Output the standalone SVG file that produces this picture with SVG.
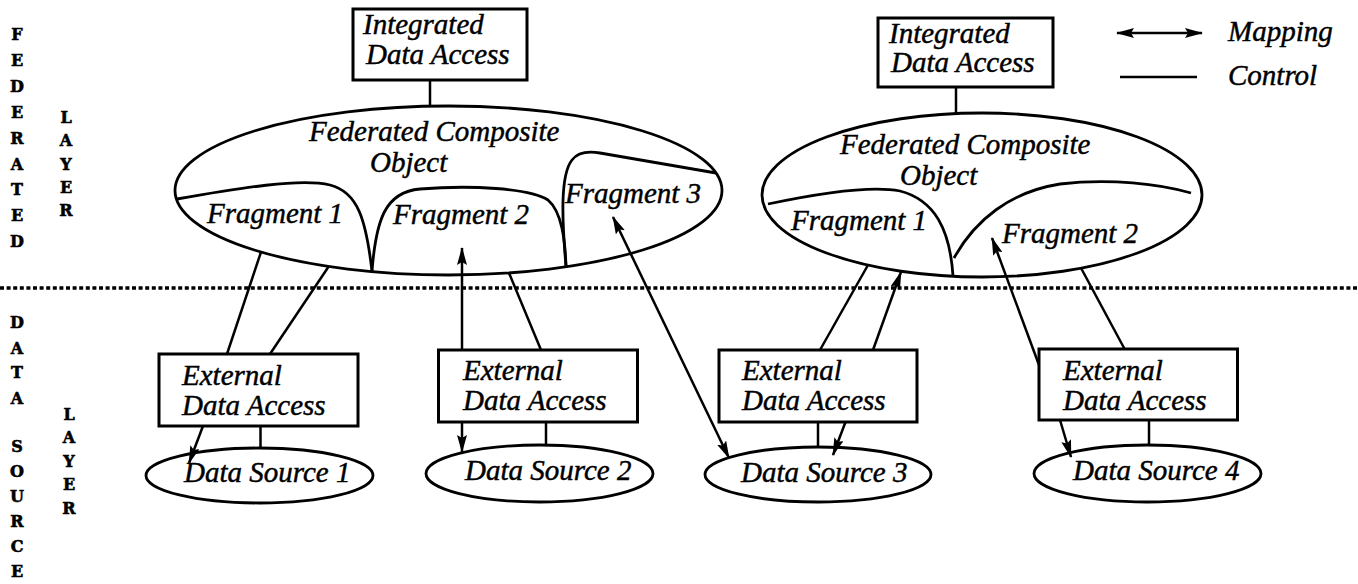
<svg xmlns="http://www.w3.org/2000/svg" width="1358" height="584" viewBox="0 0 1358 584">
  <defs>
    <marker id="head" viewBox="0 0 18 10" refX="17" refY="5" markerWidth="18" markerHeight="10" markerUnits="userSpaceOnUse" orient="auto-start-reverse">
      <path d="M0,0 L18,5 L0,10 L3,5 Z" fill="#000"/>
    </marker>
  </defs>
  <style>
    .box { fill: #fff; stroke: #000; stroke-width: 3; }
    .oval { fill: none; stroke: #000; stroke-width: 2.8; }
    .frag { fill: none; stroke: #000; stroke-width: 2.8; }
    .ctl { stroke: #000; stroke-width: 2.5; fill: none; }
    .map { stroke: #000; stroke-width: 2.5; fill: none; marker-end: url(#head); }
    .map2 { stroke: #000; stroke-width: 2.5; fill: none; marker-start: url(#head); marker-end: url(#head); }
    .lbl { font-family: "Liberation Serif", "Times New Roman", serif; font-style: italic; font-size: 29px; fill: #000; stroke: #000; stroke-width: 0.45; }
    .side { font-family: "DejaVu Serif", "Liberation Serif", serif; font-weight: bold; font-size: 16px; fill: #000; stroke: #000; stroke-width: 0.6; text-anchor: middle; }
    .sep { stroke: #000; stroke-width: 3.5; stroke-dasharray: 4 2.6; }
  </style>
  <rect width="1358" height="584" fill="#fff"/>

  <!-- layer separator -->
  <line class="sep" x1="0" y1="288" x2="1358" y2="288"/>

  <!-- side captions -->
  <g id="federated-layer-caption">
    <text class="side" x="17" y="40">F</text>
    <text class="side" x="17" y="66">E</text>
    <text class="side" x="17" y="92">D</text>
    <text class="side" x="17" y="118">E</text>
    <text class="side" x="17" y="144">R</text>
    <text class="side" x="17" y="170">A</text>
    <text class="side" x="17" y="195">T</text>
    <text class="side" x="17" y="221">E</text>
    <text class="side" x="17" y="247">D</text>
    <text class="side" x="66" y="123">L</text>
    <text class="side" x="66" y="146">A</text>
    <text class="side" x="66" y="170">Y</text>
    <text class="side" x="66" y="193">E</text>
    <text class="side" x="66" y="216">R</text>
  </g>
  <g id="data-source-layer-caption">
    <text class="side" x="17" y="328">D</text>
    <text class="side" x="17" y="354">A</text>
    <text class="side" x="17" y="378">T</text>
    <text class="side" x="17" y="404">A</text>
    <text class="side" x="17" y="452">S</text>
    <text class="side" x="17" y="477">O</text>
    <text class="side" x="17" y="502">U</text>
    <text class="side" x="17" y="527">R</text>
    <text class="side" x="17" y="552">C</text>
    <text class="side" x="17" y="577">E</text>
    <text class="side" x="69" y="420">L</text>
    <text class="side" x="69" y="443">A</text>
    <text class="side" x="69" y="467">Y</text>
    <text class="side" x="69" y="490">E</text>
    <text class="side" x="69" y="514">R</text>
  </g>

  <!-- legend -->
  <g id="legend">
    <line class="map2" x1="1117" y1="33" x2="1202" y2="33"/>
    <text class="lbl" x="1228" y="41">Mapping</text>
    <line class="ctl" x1="1120" y1="77" x2="1197" y2="77"/>
    <text class="lbl" x="1228" y="85">Control</text>
  </g>

  <!-- connectors -->
  <g id="connectors">
    <!-- control -->
    <line class="ctl" x1="430" y1="80" x2="430" y2="106"/>
    <line class="ctl" x1="956" y1="87" x2="956" y2="113"/>
    <line class="ctl" x1="227" y1="354" x2="261" y2="252"/>
    <line class="ctl" x1="270" y1="354" x2="329" y2="266"/>
    <line class="ctl" x1="260.5" y1="426" x2="260.5" y2="448"/>
    <line class="ctl" x1="541" y1="350" x2="509" y2="273"/>
    <line class="ctl" x1="546" y1="422" x2="546" y2="445"/>
    <line class="ctl" x1="820" y1="350" x2="868" y2="265"/>
    <line class="ctl" x1="818" y1="422" x2="818" y2="447"/>
    <line class="ctl" x1="1124.6" y1="349" x2="1081" y2="268"/>
    <line class="ctl" x1="1149" y1="420" x2="1149" y2="445"/>
    <!-- mapping -->
    <line class="map" x1="462" y1="350" x2="462" y2="248"/>
    <line class="map" x1="462" y1="422" x2="462" y2="452"/>
    <line class="map" x1="203" y1="426" x2="189" y2="463"/>
    <line class="map2" x1="613" y1="217" x2="729" y2="458"/>
    <line class="map" x1="873" y1="350" x2="901" y2="272"/>
    <line class="map" x1="845.5" y1="422" x2="833" y2="455"/>
    <line class="map" x1="1039" y1="365" x2="992" y2="238"/>
    <line class="map" x1="1060" y1="420" x2="1071" y2="457"/>
  </g>

  <!-- federated layer, left -->
  <g id="ida-1">
    <rect class="box" x="353" y="9" width="174" height="71"/>
    <text class="lbl" x="363" y="34">Integrated</text>
    <text class="lbl" x="366" y="64">Data Access</text>
  </g>
  <g id="fco-1">
    <ellipse class="oval" cx="448.5" cy="190.5" rx="273.5" ry="84.5"/>
    <text class="lbl" x="309" y="141">Federated Composite</text>
    <text class="lbl" x="370" y="172">Object</text>
    <path class="frag" d="M177,199 C240,188 300,178 330,185 C358,192 366,220 372,271"/>
    <path class="frag" d="M372,271 C376,220 385,192 420,189 C470,185 530,188 548,200 C562,212 565,240 566,266"/>
    <path class="frag" d="M566,266 C562,220 560,175 572,160 C578,152 588,151 600,153 L716,173"/>
    <text class="lbl" x="207" y="223">Fragment 1</text>
    <text class="lbl" x="393" y="224">Fragment 2</text>
    <text class="lbl" x="565" y="203">Fragment 3</text>
  </g>

  <!-- federated layer, right -->
  <g id="ida-2">
    <rect class="box" x="878" y="18" width="175" height="69"/>
    <text class="lbl" x="889" y="43">Integrated</text>
    <text class="lbl" x="891" y="72">Data Access</text>
  </g>
  <g id="fco-2">
    <ellipse class="oval" cx="982" cy="195" rx="220" ry="82"/>
    <text class="lbl" x="840" y="154">Federated Composite</text>
    <text class="lbl" x="900" y="185">Object</text>
    <path class="frag" d="M768,204 C820,193 870,185 900,191 C935,200 950,230 953,276"/>
    <path class="frag" d="M954,258 C975,220 1010,192 1060,184 C1110,178 1160,184 1191,193"/>
    <text class="lbl" x="791" y="230">Fragment 1</text>
    <text class="lbl" x="1002" y="243">Fragment 2</text>
  </g>

  <!-- data source layer -->
  <g id="eda-1">
    <rect class="box" x="159" y="354" width="199" height="72"/>
    <text class="lbl" x="182" y="385">External</text>
    <text class="lbl" x="182" y="415">Data Access</text>
  </g>
  <g id="ds-1">
    <ellipse class="oval" cx="259.5" cy="475.5" rx="113.5" ry="27.5"/>
    <text class="lbl" x="184" y="482">Data Source 1</text>
  </g>
  <g id="eda-2">
    <rect class="box" x="438.5" y="350" width="199" height="72"/>
    <text class="lbl" x="463" y="380">External</text>
    <text class="lbl" x="463" y="410">Data Access</text>
  </g>
  <g id="ds-2">
    <ellipse class="oval" cx="539.5" cy="473.5" rx="113.5" ry="28.5"/>
    <text class="lbl" x="465" y="480">Data Source 2</text>
  </g>
  <g id="eda-3">
    <rect class="box" x="719" y="350" width="198" height="72"/>
    <text class="lbl" x="742" y="380">External</text>
    <text class="lbl" x="742" y="410">Data Access</text>
  </g>
  <g id="ds-3">
    <ellipse class="oval" cx="818" cy="474.5" rx="113" ry="27.5"/>
    <text class="lbl" x="741" y="482">Data Source 3</text>
  </g>
  <g id="eda-4">
    <rect class="box" x="1039" y="349" width="198.5" height="71"/>
    <text class="lbl" x="1063" y="380">External</text>
    <text class="lbl" x="1063" y="410">Data Access</text>
  </g>
  <g id="ds-4">
    <ellipse class="oval" cx="1147.5" cy="473.5" rx="113.5" ry="28.5"/>
    <text class="lbl" x="1073" y="480">Data Source 4</text>
  </g>
</svg>
